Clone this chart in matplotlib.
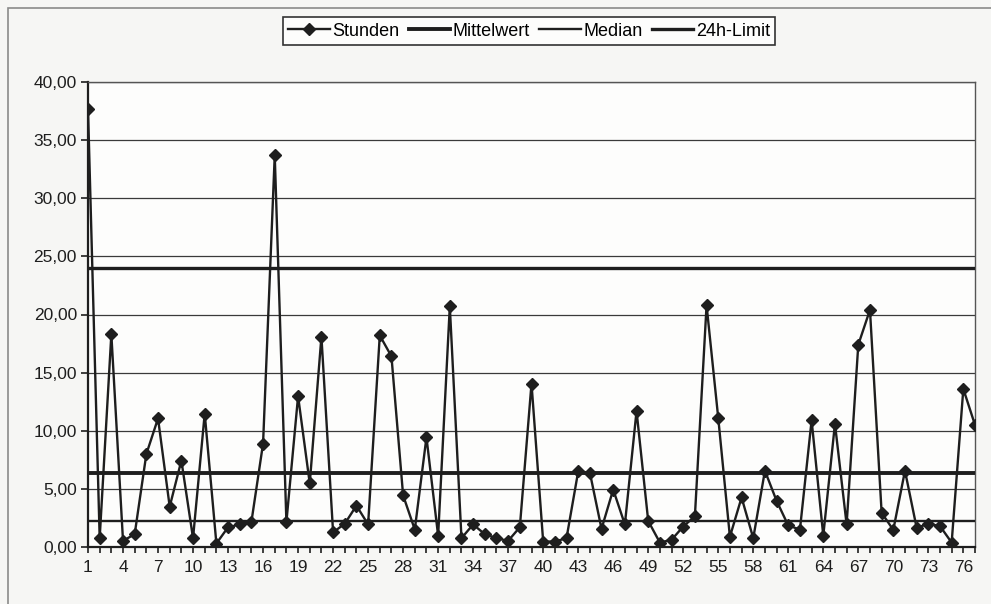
import matplotlib
matplotlib.use("Agg")
import matplotlib.pyplot as plt
from matplotlib.patches import Rectangle
from matplotlib.ticker import FuncFormatter, MultipleLocator, FixedLocator

plt.rcParams['font.family'] = ['Liberation Sans', 'DejaVu Sans']

# ---- data ----
index = list(range(1, 78))
stunden = [37.7, 0.76, 18.3, 0.53, 1.1, 8.0, 11.06, 3.47, 7.44, 0.76,
           11.47, 0.3, 1.7, 1.94, 2.15, 8.9, 33.7, 2.15, 12.97, 5.47,
           18.1, 1.26, 2.0, 3.56, 1.94, 18.2, 16.4, 4.44, 1.5, 9.44,
           0.97, 20.7, 0.76, 1.94, 1.1, 0.76, 0.53, 1.7, 14.06, 0.47,
           0.47, 0.76, 6.5, 6.4, 1.56, 4.94, 1.94, 11.7, 2.24, 0.38,
           0.62, 1.76, 2.65, 20.8, 11.1, 0.88, 4.26, 0.76, 6.56, 3.97,
           1.85, 1.5, 10.9, 0.97, 10.6, 1.94, 17.4, 20.4, 2.94, 1.47,
           6.56, 1.65, 2.0, 1.8, 0.38, 13.6, 10.5]
mittelwert = 6.35
median = 2.2
limit_24h = 24.0
y_ticks = [0, 5, 10, 15, 20, 25, 30, 35, 40]
x_label_ticks = list(range(1, 78, 3))

W, H = 991, 604
fig = plt.figure(figsize=(W / 100, H / 100), dpi=100)
fig.patch.set_facecolor('#f6f6f4')

# outer chart-area frame (cropped at right/bottom)
fig.patches.append(Rectangle((8 / W, -0.05), 1.2, 1 - 8 / H + 0.05,
                             transform=fig.transFigure, fill=False,
                             edgecolor='#8a8a8a', linewidth=1.2))

left, right, top, bottom = 88, 975, 82, 547
ax = fig.add_axes([left / W, 1 - bottom / H, (right - left) / W, (bottom - top) / H])
ax.set_facecolor('#fdfdfc')

ink = '#1e1e1e'
ax.plot(index, stunden, color=ink, linewidth=1.7, marker='D', markersize=6.5,
        markerfacecolor=ink, markeredgecolor=ink, label='Stunden', zorder=5)
ax.plot([index[0], index[-1]], [mittelwert, mittelwert], color=ink, linewidth=2.8,
        label='Mittelwert', zorder=4)
ax.plot([index[0], index[-1]], [median, median], color=ink, linewidth=1.7,
        label='Median', zorder=4)
ax.plot([index[0], index[-1]], [limit_24h, limit_24h], color=ink, linewidth=2.4,
        label='24h-Limit', zorder=4)

ax.set_xlim(1, 77)
ax.set_ylim(0, 40)
ax.yaxis.set_major_locator(FixedLocator(y_ticks))
ax.yaxis.set_major_formatter(FuncFormatter(lambda v, p: f"{v:.2f}".replace('.', ',')))
ax.xaxis.set_major_locator(FixedLocator(x_label_ticks))
ax.xaxis.set_minor_locator(MultipleLocator(1))
ax.xaxis.set_major_formatter(FuncFormatter(lambda v, p: f"{int(v)}"))

ax.grid(axis='y', color='#3a3a3a', linewidth=0.9, zorder=1)
ax.set_axisbelow(True)

for s in ['top', 'right']:
    ax.spines[s].set_color('#555555')
    ax.spines[s].set_linewidth(1.0)
for s in ['left', 'bottom']:
    ax.spines[s].set_color(ink)
    ax.spines[s].set_linewidth(1.6)

ax.tick_params(axis='y', direction='out', length=5, width=1.2, colors=ink,
               labelsize=12.5, pad=3)
ax.tick_params(axis='x', which='both', direction='out', length=4, width=1.2,
               colors=ink, labelsize=12.5, pad=5)

leg = fig.legend(loc='center', bbox_to_anchor=(529 / W, 1 - 31 / H), ncol=4,
                 frameon=True, fancybox=False, edgecolor='#333333',
                 fontsize=13, handlelength=2.3, handletextpad=0.15,
                 columnspacing=0.5, borderpad=0.3, framealpha=1)
leg.get_frame().set_facecolor('#fdfdfc')
leg.get_frame().set_linewidth(1.2)

fig.savefig('out.png', dpi=100, facecolor=fig.get_facecolor())
